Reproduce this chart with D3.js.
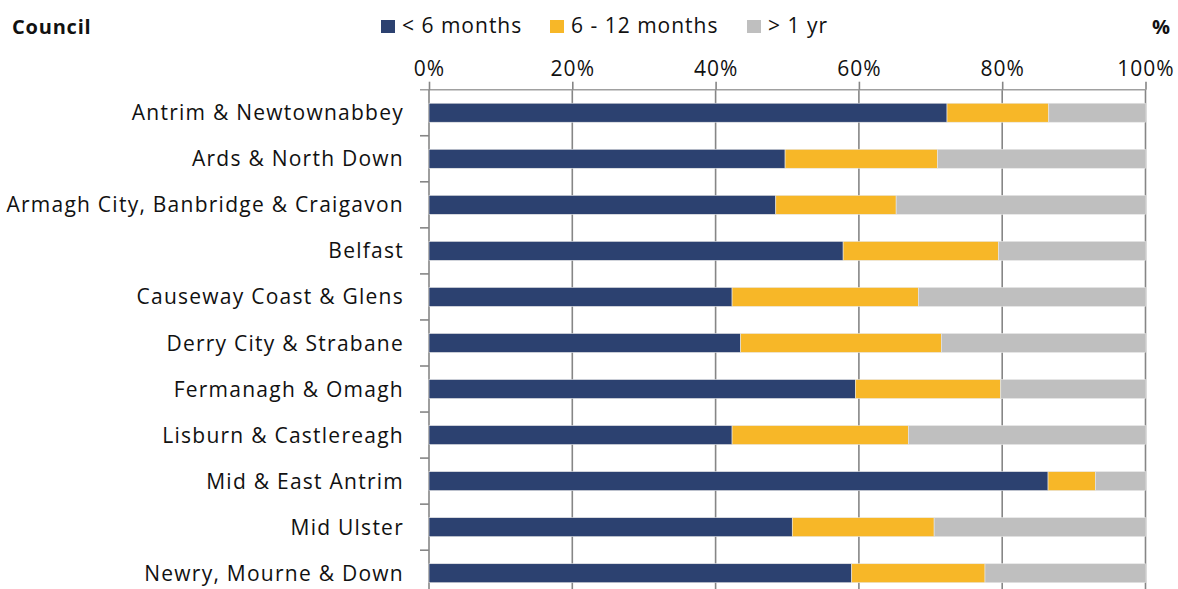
<!DOCTYPE html>
<html>
<head>
<meta charset="utf-8">
<script src="https://cdn.jsdelivr.net/npm/d3@7"></script>
<style>
  html, body { margin: 0; padding: 0; background: #fff; }
  svg { display: block; }
  text { font-family: "Open Sans", "Noto Sans", sans-serif; fill: #111; }
</style>
</head>
<body>
<svg id="chart" width="1178" height="589"></svg>
<script>
const categories = [
  "Antrim & Newtownabbey",
  "Ards & North Down",
  "Armagh City, Banbridge & Craigavon",
  "Belfast",
  "Causeway Coast & Glens",
  "Derry City & Strabane",
  "Fermanagh & Omagh",
  "Lisburn & Castlereagh",
  "Mid & East Antrim",
  "Mid Ulster",
  "Newry, Mourne & Down"
];
const seriesNames = ["< 6 months", "6 - 12 months", "> 1 yr"];
const under6 = [72.3, 49.7, 48.4, 57.8, 42.3, 43.5, 59.5, 42.3, 86.4, 50.7, 59.0];
const sixTo12 = [14.2, 21.3, 16.8, 21.7, 26.0, 28.0, 20.3, 24.6, 6.6, 19.8, 18.6];
const over1yr = [13.5, 29.0, 34.8, 20.5, 31.7, 28.5, 20.2, 33.1, 7.0, 29.5, 22.4];
const tickValues = [0, 20, 40, 60, 80, 100];
const colors = ["#2C4170", "#F7B728", "#BFBFBF"];

const svg = d3.select("#chart");
const x0 = 429, x1 = 1145.5;
const yTop = 89.7, step = 46.05;
const barH = 19;
const FS = 21, LS = 1.0, LS_CAT = 1.25;

const x = d3.scaleLinear().domain([0, 100]).range([x0, x1]);
const y = d3.scaleBand().domain(categories)
  .range([yTop, yTop + step * categories.length]).paddingInner(0).paddingOuter(0);

const rows = categories.map((c, i) => ({ cat: c, v: [under6[i], sixTo12[i], over1yr[i]] }));

// Vertical gridlines
svg.append("g").selectAll("line").data(tickValues.filter(t => t > 0)).join("line")
  .attr("x1", d => x(d)).attr("x2", d => x(d))
  .attr("y1", yTop).attr("y2", 600)
  .attr("stroke", "#868686").attr("stroke-width", 1.6);

// Top axis
const xAxis = d3.axisTop(x).tickValues(tickValues).tickFormat(d => d + "%").tickSize(8).tickSizeOuter(0);
const gx = svg.append("g").attr("transform", `translate(0,${yTop})`).call(xAxis);
gx.select(".domain").attr("stroke", "#a0a0a0").attr("stroke-width", 1.6)
  .attr("d", `M${x0 - 9},0H${x1}`);
gx.selectAll(".tick line").attr("stroke", "#868686").attr("stroke-width", 1.6);
gx.selectAll(".tick text").attr("font-size", FS).attr("font-family", "Open Sans")
  .attr("letter-spacing", LS).attr("fill", "#111").attr("y", -14).attr("dy", 0);

// Left category axis
const yAxis = d3.axisLeft(y).tickSize(0).tickFormat(d => d);
const gy = svg.append("g").attr("transform", `translate(${x0},0)`).call(yAxis);
gy.select(".domain").remove();
gy.append("line").attr("x1", 0).attr("x2", 0).attr("y1", yTop).attr("y2", 600)
  .attr("stroke", "#868686").attr("stroke-width", 1.6);
gy.selectAll(".tick text").attr("font-size", FS).attr("font-family", "Open Sans")
  .attr("letter-spacing", LS_CAT).attr("fill", "#111").attr("x", -25).attr("dy", "0.36em");

// category boundary ticks
svg.append("g").selectAll("line").data(categories).join("line")
  .attr("x1", x0 - 9).attr("x2", x0)
  .attr("y1", d => y(d) + step).attr("y2", d => y(d) + step)
  .attr("stroke", "#868686").attr("stroke-width", 1.6);

// Bars
const stack = d3.stack().keys([0, 1, 2]).value((d, k) => d.v[k]);
const layers = stack(rows);
svg.append("g").selectAll("g").data(layers).join("g")
  .attr("fill", (d, i) => colors[i])
  .selectAll("rect").data(d => d).join("rect")
  .attr("x", d => x(d[0]))
  .attr("width", d => x(d[1]) - x(d[0]))
  .attr("y", d => y(d.data.cat) + (step - barH) / 2)
  .attr("height", barH)
  .attr("stroke", "#e8e8e8").attr("stroke-width", 0.6);

// Legend
const legendX = [381, 550, 747];
const lg = svg.append("g");
seriesNames.forEach((n, i) => {
  lg.append("rect").attr("x", legendX[i]).attr("y", 20).attr("width", 14).attr("height", 13).attr("fill", colors[i]);
  lg.append("text").attr("x", legendX[i] + 21).attr("y", 33).attr("font-size", FS)
    .attr("letter-spacing", LS).text(n);
});

// Titles
svg.append("text").attr("x", 12).attr("y", 34).attr("font-size", 20).attr("font-weight", "bold")
  .attr("letter-spacing", 0.8).text("Council");
svg.append("text").attr("x", 1170).attr("y", 34).attr("font-size", 20).attr("font-weight", "bold")
  .attr("text-anchor", "end").text("%");
</script>
</body>
</html>
